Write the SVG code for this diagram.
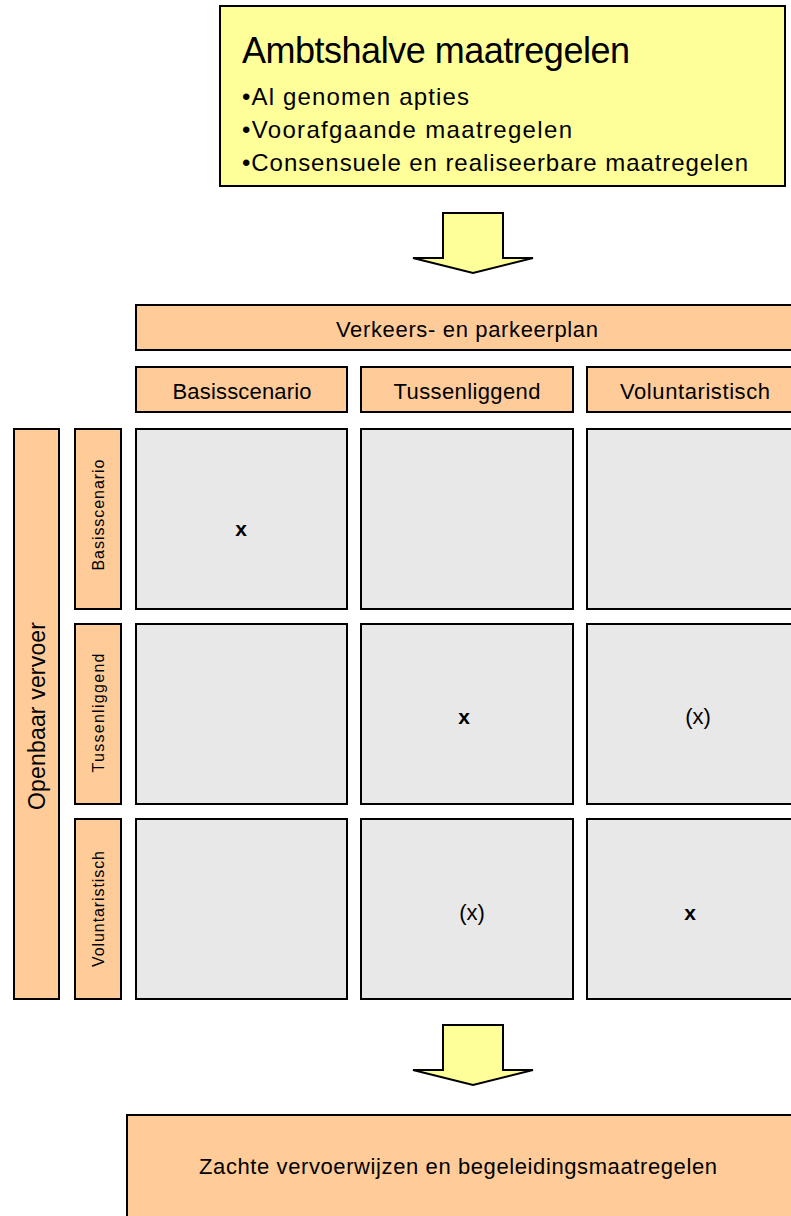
<svg xmlns="http://www.w3.org/2000/svg" width="791" height="1216" viewBox="0 0 791 1216">
  <style>
    .box { stroke: #000; stroke-width: 2; }
    .yellow { fill: #FFFF99; }
    .orange { fill: #FFCC99; }
    .cell { fill: #E8E8E8; }
    text { font-family: "Liberation Sans", "DejaVu Sans", sans-serif; fill: #000; }
    .lbl { font-size: 22px; text-anchor: middle; }
    .side { font-size: 16px; text-anchor: middle; }
    .mark { font-size: 21px; font-weight: bold; text-anchor: middle; }
    .opt { font-size: 22px; text-anchor: middle; }
  </style>

  <!-- Source measures -->
  <g id="ambtshalve">
    <rect class="box yellow" x="220" y="6" width="565" height="180"/>
    <text x="242" y="63" font-size="36" textLength="388">Ambtshalve maatregelen</text>
    <text x="242" y="105" font-size="24" textLength="227">•Al genomen apties</text>
    <text x="242" y="138" font-size="24" textLength="330">•Voorafgaande maatregelen</text>
    <text x="242" y="171" font-size="24" textLength="506">•Consensuele en realiseerbare maatregelen</text>
  </g>

  <!-- Flow arrows -->
  <g id="connectors">
    <path class="box yellow" d="M443,213 H503 V258 H533 L473,273 L413,258 H443 Z"/>
    <path class="box yellow" d="M443,1025 H503 V1070 H533 L473,1085 L413,1070 H443 Z"/>
  </g>

  <!-- Column headers -->
  <g id="verkeersplan">
    <rect class="box orange" x="136" y="305" width="670" height="45"/>
    <text class="lbl" x="467" y="337" textLength="262">Verkeers- en parkeerplan</text>
  </g>
  <g id="col-basis">
    <rect class="box orange" x="136" y="367" width="211" height="45"/>
    <text class="lbl" x="242" y="399" textLength="139">Basisscenario</text>
  </g>
  <g id="col-tussen">
    <rect class="box orange" x="361" y="367" width="212" height="45"/>
    <text class="lbl" x="467" y="399" textLength="147">Tussenliggend</text>
  </g>
  <g id="col-volun">
    <rect class="box orange" x="587" y="367" width="220" height="45"/>
    <text class="lbl" x="695" y="399" textLength="150">Voluntaristisch</text>
  </g>

  <!-- Row headers -->
  <g id="openbaar-vervoer">
    <rect class="box orange" x="14" y="429" width="45" height="570"/>
    <text font-size="23" text-anchor="middle" transform="translate(45,716) rotate(-90)" textLength="188">Openbaar vervoer</text>
  </g>
  <g id="row-basis">
    <rect class="box orange" x="75" y="429" width="46" height="180"/>
    <text class="side" transform="translate(104,515) rotate(-90)" textLength="111">Basisscenario</text>
  </g>
  <g id="row-tussen">
    <rect class="box orange" x="75" y="624" width="46" height="180"/>
    <text class="side" transform="translate(104,713) rotate(-90)" textLength="119">Tussenliggend</text>
  </g>
  <g id="row-volun">
    <rect class="box orange" x="75" y="819" width="46" height="180"/>
    <text class="side" transform="translate(104,909) rotate(-90)" textLength="116">Voluntaristisch</text>
  </g>

  <!-- Scenario grid -->
  <g id="cell-1-1">
    <rect class="box cell" x="136" y="429" width="211" height="180"/>
    <text class="mark" x="241" y="536">x</text>
  </g>
  <g id="cell-1-2"><rect class="box cell" x="361" y="429" width="212" height="180"/></g>
  <g id="cell-1-3"><rect class="box cell" x="587" y="429" width="220" height="180"/></g>

  <g id="cell-2-1"><rect class="box cell" x="136" y="624" width="211" height="180"/></g>
  <g id="cell-2-2">
    <rect class="box cell" x="361" y="624" width="212" height="180"/>
    <text class="mark" x="464" y="724">x</text>
  </g>
  <g id="cell-2-3">
    <rect class="box cell" x="587" y="624" width="220" height="180"/>
    <text class="opt" x="698" y="724">(x)</text>
  </g>

  <g id="cell-3-1"><rect class="box cell" x="136" y="819" width="211" height="180"/></g>
  <g id="cell-3-2">
    <rect class="box cell" x="361" y="819" width="212" height="180"/>
    <text class="opt" x="472" y="920">(x)</text>
  </g>
  <g id="cell-3-3">
    <rect class="box cell" x="587" y="819" width="220" height="180"/>
    <text class="mark" x="690" y="920">x</text>
  </g>

  <!-- Resulting measures -->
  <g id="zachte-vervoerwijzen">
    <rect class="box orange" x="127" y="1115" width="680" height="120"/>
    <text class="lbl" x="458" y="1174" textLength="518">Zachte vervoerwijzen en begeleidingsmaatregelen</text>
  </g>
</svg>
